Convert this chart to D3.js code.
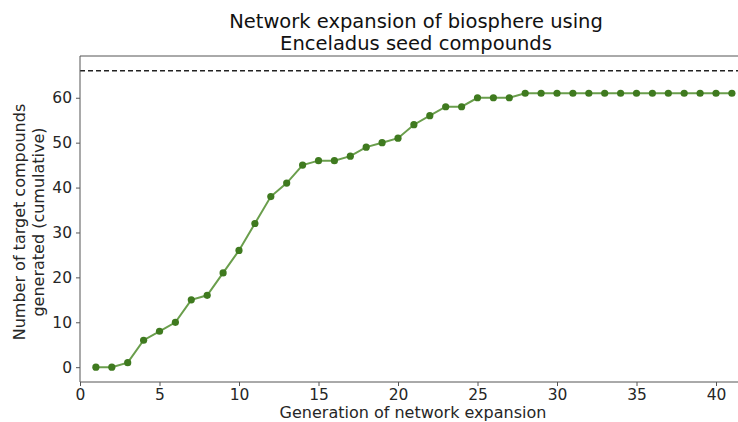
<!DOCTYPE html>
<html>
<head>
<meta charset="utf-8">
<script src="https://cdn.jsdelivr.net/npm/d3@7"></script>
<style>
  body { margin: 0; background: #fff; }
  svg { font-family: "DejaVu Sans", sans-serif; }
</style>
</head>
<body>
<div id="chart"></div>
<script>
// data
var generations = d3.range(1, 42);
var targets = [0, 0, 1, 6, 8, 10, 15, 16, 21, 26, 32, 38, 41, 45, 46, 46, 47, 49, 50, 51,
               54, 56, 58, 58, 60, 60, 60, 61, 61, 61, 61, 61, 61, 61, 61, 61, 61, 61, 61, 61, 61];
var totalTargets = 66;
var xTicks = [0, 5, 10, 15, 20, 25, 30, 35, 40];
var yTicks = [0, 10, 20, 30, 40, 50, 60];

var width = 738, height = 422;
var margin = {left: 80, top: 56, bottom: 382};

var svg = d3.select("#chart").append("svg")
    .attr("width", width).attr("height", height);

var x = d3.scaleLinear().domain([0, 43]).range([margin.left, margin.left + 43 * 15.9]);
var y = d3.scaleLinear().domain([-3.3, 69.3]).range([margin.bottom, margin.top]);

var axisColor = "#555";
var textColor = "#262626";

// dashed line: total number of targets
svg.append("line")
    .attr("x1", margin.left).attr("x2", width)
    .attr("y1", y(totalTargets)).attr("y2", y(totalTargets))
    .attr("stroke", "#222").attr("stroke-width", 1.5)
    .attr("stroke-dasharray", "5,3");

var line = d3.line()
    .x(function(d, i) { return x(generations[i]); })
    .y(function(d) { return y(d); });

svg.append("path")
    .datum(targets)
    .attr("d", line)
    .attr("fill", "none")
    .attr("stroke", "#6a9e4c")
    .attr("stroke-width", 2);

svg.selectAll("circle.pt")
    .data(targets)
    .enter().append("circle")
    .attr("class", "pt")
    .attr("cx", function(d, i) { return x(generations[i]); })
    .attr("cy", function(d) { return y(d); })
    .attr("r", 3.6)
    .attr("fill", "#3f7a1f");

// axes
var xAxis = svg.append("g")
    .attr("transform", "translate(0," + margin.bottom + ")")
    .call(d3.axisBottom(x).tickValues(xTicks).tickSize(4).tickPadding(3));
var yAxis = svg.append("g")
    .attr("transform", "translate(" + margin.left + ",0)")
    .call(d3.axisLeft(y).tickValues(yTicks).tickSize(4).tickPadding(4));

[xAxis, yAxis].forEach(function(a) {
  a.select(".domain").remove();
  a.selectAll(".tick line").attr("stroke", axisColor);
  a.selectAll(".tick text").attr("fill", textColor)
      .style("font-size", "15.5px").style("font-family", "DejaVu Sans, sans-serif");
});

// spines
svg.append("line").attr("x1", margin.left).attr("x2", margin.left)
    .attr("y1", margin.top).attr("y2", margin.bottom)
    .attr("stroke", axisColor).attr("stroke-width", 1);
svg.append("line").attr("x1", margin.left).attr("x2", width)
    .attr("y1", margin.bottom).attr("y2", margin.bottom)
    .attr("stroke", axisColor).attr("stroke-width", 1);
svg.append("line").attr("x1", margin.left).attr("x2", width)
    .attr("y1", margin.top).attr("y2", margin.top)
    .attr("stroke", axisColor).attr("stroke-width", 1);

// title
var title = svg.append("text")
    .attr("text-anchor", "middle")
    .attr("fill", "#111")
    .style("font-size", "19.5px");
title.append("tspan").attr("x", 416).attr("y", 28).text("Network expansion of biosphere using");
title.append("tspan").attr("x", 416).attr("y", 50).text("Enceladus seed compounds");

// axis labels
svg.append("text")
    .attr("x", 413).attr("y", 418)
    .attr("text-anchor", "middle")
    .attr("fill", textColor)
    .style("font-size", "16px")
    .text("Generation of network expansion");

var ylab = svg.append("text")
    .attr("transform", "translate(0,222) rotate(-90)")
    .attr("text-anchor", "middle")
    .attr("fill", textColor)
    .style("font-size", "16px");
ylab.append("tspan").attr("x", 0).attr("y", 25).text("Number of target compounds");
ylab.append("tspan").attr("x", 0).attr("y", 44).text("generated (cumulative)");
</script>
</body>
</html>
